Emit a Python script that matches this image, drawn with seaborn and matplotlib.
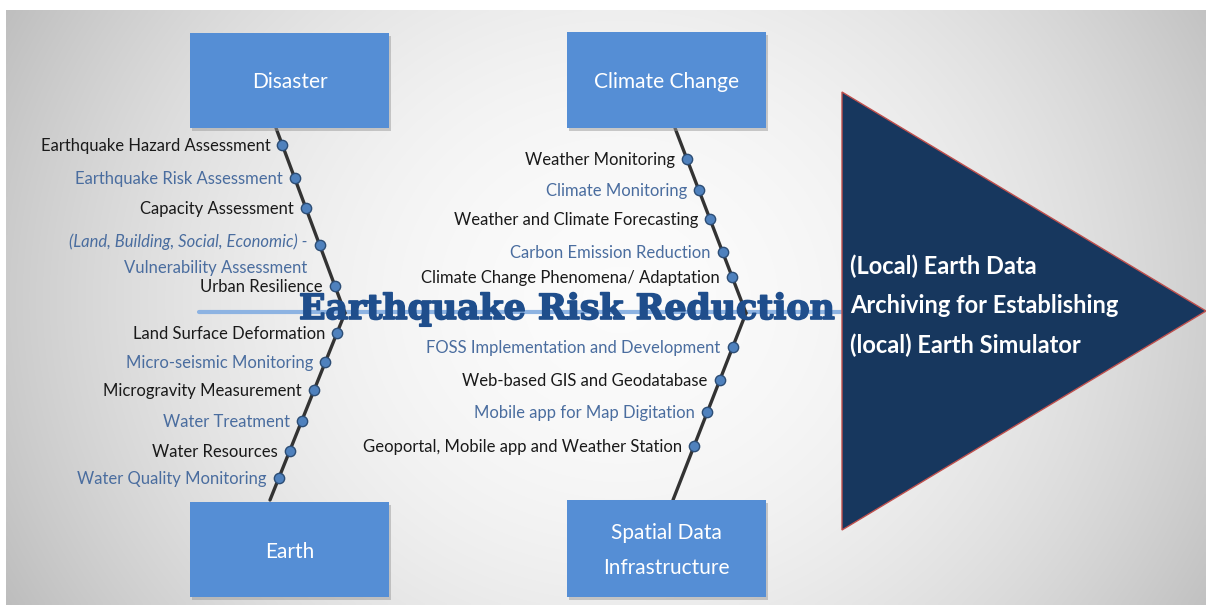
import numpy as np
import pandas as pd
import matplotlib
matplotlib.use("Agg")
import matplotlib.pyplot as plt
import matplotlib.patheffects as pe
from matplotlib.patches import Rectangle, Polygon
import seaborn as sns

# ---- data ----
categories = ["Disaster", "Earth", "Climate Change", "Spatial Data\nInfrastructure"]
disaster_items = ["Earthquake Hazard Assessment", "Earthquake Risk Assessment",
                  "Capacity Assessment",
                  "(Land, Building, Social, Economic) -\nVulnerability Assessment",
                  "Urban Resilience"]
earth_items = ["Land Surface Deformation", "Micro-seismic Monitoring",
               "Microgravity Measurement", "Water Treatment", "Water Resources",
               "Water Quality Monitoring"]
climate_items = ["Weather Monitoring", "Climate Monitoring",
                 "Weather and Climate Forecasting", "Carbon Emission Reduction",
                 "Climate Change Phenomena/ Adaptation"]
sdi_items = ["FOSS Implementation and Development", "Web-based GIS and Geodatabase",
             "Mobile app for Map Digitation", "Geoportal, Mobile app and Weather Station"]
spine_title = "Earthquake Risk Reduction"
head_text = "(Local) Earth Data\nArchiving for Establishing\n(local) Earth Simulator"

# ---- layout (pixels, y down) ----
bones = {  # (outer end, spine end)
    "Disaster": ((276, 128), (345, 313)),
    "Earth": ((270, 500), (345, 313)),
    "Climate Change": ((675, 128), (746, 313)),
    "Spatial Data\nInfrastructure": ((673, 500), (746, 313)),
}
dot_y = {
    "Disaster": [145, 178, 208, 245, 286],
    "Earth": [333, 362, 390, 421, 451, 478],
    "Climate Change": [159, 190, 219, 252, 277],
    "Spatial Data\nInfrastructure": [347, 380, 412, 446],
}
first_blue = {"Disaster": False, "Earth": False, "Climate Change": False,
              "Spatial Data\nInfrastructure": True}
boxes = {
    "Disaster": (190, 33, 199, 95),
    "Earth": (190, 502, 199, 95),
    "Climate Change": (567, 32, 199, 96),
    "Spatial Data\nInfrastructure": (567, 500, 199, 97),
}
items = dict(zip(categories, [disaster_items, earth_items, climate_items, sdi_items]))

BLUE_TXT = "#4a6d9f"
BLACK_TXT = "#1a1a1a"
BOX = "#558ed5"
NAVY = "#17375e"
GAP = 12
FS = 12

sns.set_theme(style="white")
plt.rcParams["font.family"] = ["Lato", "DejaVu Sans"]

fig = plt.figure(figsize=(12.06, 6.10), dpi=100)
ax = fig.add_axes([0, 0, 1, 1])
ax.set_xlim(0, 1206)
ax.set_ylim(610, 0)
ax.axis("off")

# background radial gradient
gx, gy = np.meshgrid(np.linspace(6, 1206, 400), np.linspace(10, 605, 200))
v = 0.985 - 0.19 * (((gx - 620) / 620) ** 2 + ((gy - 300) / 560) ** 2)
ax.imshow(np.dstack([v, v, v]), extent=(6, 1206, 605, 10), aspect="auto",
          interpolation="bilinear", zorder=0)

# spine
spine = pd.DataFrame({"x": [199, 842], "y": [312, 312]})
sns.lineplot(data=spine, x="x", y="y", color="#8db3e2", linewidth=3, ax=ax,
             zorder=2, sort=False)

# bones, dots, labels
rows = []
for cat in categories:
    (x0, y0), (x1, y1) = bones[cat]
    bone = pd.DataFrame({"x": [x0, x1], "y": [y0, y1]})
    sns.lineplot(data=bone, x="x", y="y", color="#333333", linewidth=2.4, ax=ax,
                 zorder=3, sort=False)
    for i, (label, yy) in enumerate(zip(items[cat], dot_y[cat])):
        xx = x0 + (yy - y0) * (x1 - x0) / (y1 - y0)
        rows.append({"x": xx, "y": yy})
        blue = (i % 2 == 1) != first_blue[cat]
        col = BLUE_TXT if blue else BLACK_TXT
        if "\n" in label:
            l1, l2 = label.split("\n")
            ax.text(xx - GAP, yy - 3, l1, ha="right", va="center", fontsize=FS,
                    color=col, style="italic", zorder=4)
            ax.text(xx - GAP, yy + 23, l2, ha="right", va="center", fontsize=FS,
                    color=col, zorder=4)
        else:
            ax.text(xx - GAP, yy + 1, label, ha="right", va="center", fontsize=FS,
                    color=col, zorder=4)

dots = pd.DataFrame(rows)
sns.scatterplot(data=dots, x="x", y="y", s=55, color="#4f81bd",
                edgecolor="#2c4d75", linewidth=1, ax=ax, zorder=5)

# category boxes
for cat in categories:
    bx, by, bw, bh = boxes[cat]
    ax.add_patch(Rectangle((bx + 2, by + 3), bw, bh, facecolor="#9a9a9a",
                           edgecolor="none", alpha=0.5, zorder=5))
    ax.add_patch(Rectangle((bx, by), bw, bh, facecolor=BOX, edgecolor="none", zorder=6))
    ax.text(bx + bw / 2, by + bh / 2 + 2, cat, ha="center", va="center",
            fontsize=15, color="white", linespacing=1.95, zorder=7)

# spine title (slightly heavier stroke like the original slab font)
ax.text(567, 309, spine_title, ha="center", va="center", fontsize=25,
        family="DejaVu Serif", weight="bold", color="#1f4e8c", zorder=8,
        path_effects=[pe.Stroke(linewidth=1.2, foreground="#1f4e8c"), pe.Normal()])

# head triangle
ax.add_patch(Polygon([(842, 92), (1206, 311), (842, 530)], closed=True,
                     facecolor=NAVY, edgecolor="#c0504d", linewidth=1, zorder=6))
ax.text(850, 306, head_text, ha="left", va="center", fontsize=17,
        weight="bold", color="white", linespacing=1.85, zorder=7)

fig.savefig("out.png", dpi=100)
